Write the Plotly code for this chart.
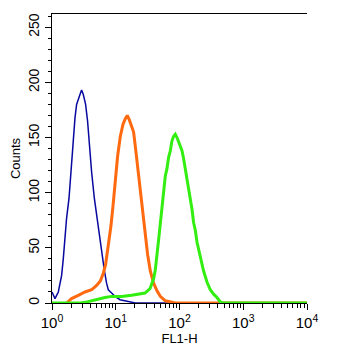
import plotly.graph_objects as go

# log10(FL1-H) positions and counts
blue_log = [0.0, 0.047, 0.099, 0.151, 0.177, 0.204, 0.229, 0.267, 0.307, 0.334, 0.361, 0.386,
            0.439, 0.464, 0.491, 0.527, 0.558, 0.580, 0.621, 0.664, 0.700, 0.737, 0.778, 0.820,
            0.856, 0.883, 0.935, 0.988, 1.067, 1.145, 1.244, 1.307, 4.0]
blue_counts = [10, 4, 10, 25, 40, 62, 77, 95, 122, 147, 168, 180,
               189, 193, 189, 180, 165, 147, 119, 95, 80, 62, 47, 30,
               18, 12, 9, 6, 3, 2, 1, 0, 0]

orange_log = [0.229, 0.307, 0.413, 0.518, 0.621, 0.700, 0.758, 0.805, 0.841, 0.888, 0.925, 0.957,
              0.993, 1.029, 1.071, 1.114, 1.150, 1.181, 1.213, 1.244, 1.280, 1.307, 1.343, 1.385,
              1.427, 1.464, 1.500, 1.542, 1.594, 1.647, 1.699, 1.777, 1.856, 1.934, 4.0]
orange_counts = [0, 4, 7, 10, 12, 16, 20, 27, 35, 53, 70, 88,
                 113, 133, 151, 162, 167, 170, 166, 160, 155, 142, 124, 102,
                 80, 62, 44, 29, 18, 11, 6, 2, 1, 0, 0]

green_log = [0.0, 0.444, 0.549, 0.621, 0.726, 0.831, 0.935, 1.092, 1.249, 1.354, 1.459, 1.537,
             1.594, 1.620, 1.647, 1.672, 1.699, 1.725, 1.751, 1.777, 1.804, 1.829, 1.856, 1.882,
             1.907, 1.934, 1.961, 1.986, 2.013, 2.039, 2.064, 2.091, 2.118, 2.143, 2.166, 2.196,
             2.221, 2.248, 2.275, 2.300, 2.326, 2.378, 2.431, 2.483, 2.535, 2.588, 2.640, 2.687, 4.0]
green_counts = [0, 0, 1, 2, 4, 5, 6, 6, 7, 8, 9, 13,
                22, 30, 42, 57, 72, 86, 100, 115, 122, 132, 138, 147,
                151, 153, 150, 146, 143, 138, 131, 122, 113, 104, 94, 85,
                73, 66, 55, 48, 42, 29, 19, 12, 8, 5, 1, 0, 0]

x_tickvals = [1, 10, 100, 1000, 10000]
x_ticktext = ["10<sup>0</sup>", "10<sup>1</sup>", "10<sup>2</sup>", "10<sup>3</sup>", "10<sup>4</sup>"]
y_tickvals = [0, 50, 100, 150, 200, 250]

font_family = "Arial, Liberation Sans, Helvetica, sans-serif"

fig = go.Figure()
fig.add_trace(go.Scatter(x=[10 ** v for v in blue_log], y=blue_counts, mode="lines",
                         line=dict(color="#0808a0", width=1.5), showlegend=False))
fig.add_trace(go.Scatter(x=[10 ** v for v in orange_log], y=orange_counts, mode="lines",
                         line=dict(color="#ff6a10", width=3), showlegend=False))
fig.add_trace(go.Scatter(x=[10 ** v for v in green_log], y=green_counts, mode="lines",
                         line=dict(color="#33ee11", width=3), showlegend=False))

fig.update_layout(
    width=352, height=354,
    margin=dict(l=52, r=45, t=14, b=51),
    paper_bgcolor="white", plot_bgcolor="white",
    font=dict(family=font_family, size=13, color="black"),
    xaxis=dict(
        type="log", range=[0, 4],
        tickvals=x_tickvals, ticktext=x_ticktext,
        ticks="outside", ticklen=6, tickcolor="black",
        minor=dict(ticks="outside", ticklen=4, dtick="D1", tickcolor="black"),
        showline=True, linecolor="black", linewidth=1, mirror=True,
        showgrid=False, zeroline=False,
        title=dict(text="FL1-H", font=dict(size=13), standoff=0),
        tickfont=dict(size=15),
    ),
    yaxis=dict(
        range=[0, 262],
        tickvals=y_tickvals,
        ticks="outside", ticklen=6, tickcolor="black",
        minor=dict(ticks="outside", ticklen=3, dtick=10, tickcolor="black"),
        tickangle=-90,
        showline=True, linecolor="black", linewidth=1, mirror=False,
        showgrid=False, zeroline=False,
        title=dict(text="Counts", font=dict(size=13), standoff=2),
        tickfont=dict(size=14),
    ),
)

fig.write_html("out.html")
